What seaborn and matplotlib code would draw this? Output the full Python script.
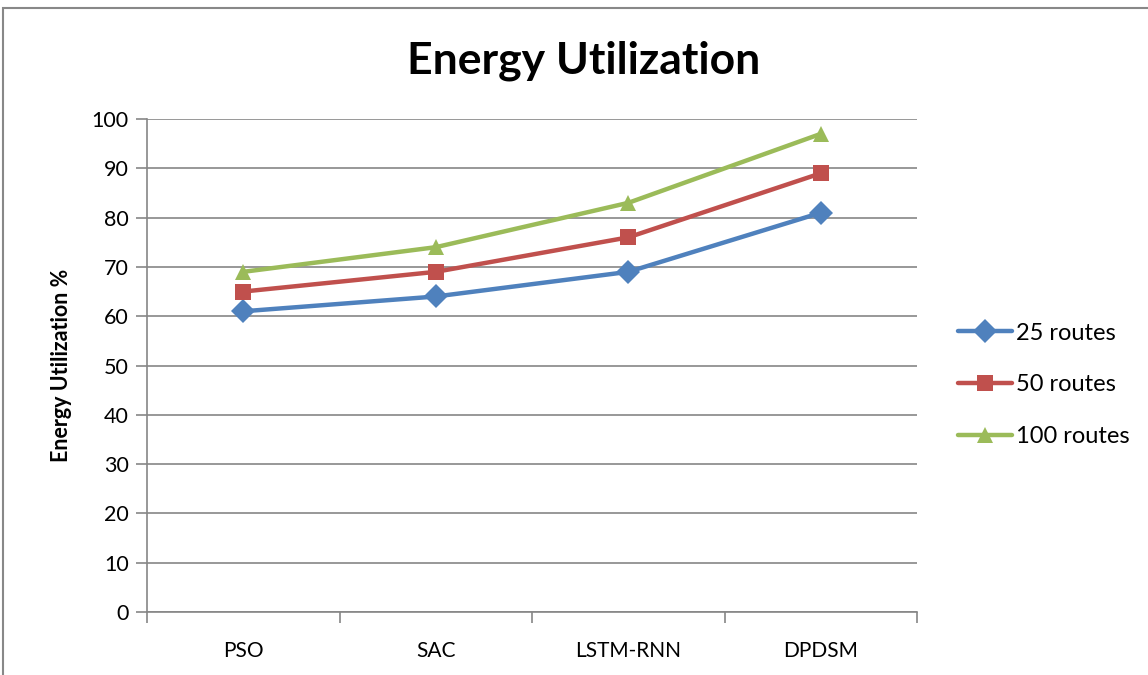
import numpy as np
import pandas as pd
import seaborn as sns
import matplotlib.pyplot as plt
from matplotlib.patches import Rectangle

# dados
metodos = ['PSO', 'SAC', 'LSTM-RNN', 'DPDSM']
rotas_25 = [61, 64, 69, 81]
rotas_50 = [65, 69, 76, 89]
rotas_100 = [69, 74, 83, 97]
series = ['25 routes', '50 routes', '100 routes']
yticks = list(range(0, 101, 10))

df = pd.DataFrame({
    'Metodo': metodos * 3,
    'Valor': rotas_25 + rotas_50 + rotas_100,
    'Serie': [s for s in series for _ in metodos],
})

sns.set_style('white')
plt.rcParams['font.family'] = ['Lato', 'DejaVu Sans']
plt.rcParams['text.color'] = 'black'
plt.rcParams['axes.labelcolor'] = 'black'

fig = plt.figure(figsize=(11.48, 6.75), dpi=100)
ax = fig.add_axes([0.128, 0.0933, 0.671, 0.7304])

cores = ['#4F81BD', '#C0504D', '#9BBB59']
sns.lineplot(data=df, x='Metodo', y='Valor', hue='Serie', style='Serie',
             palette=cores, markers=['D', 's', '^'], dashes=False,
             markersize=12, linewidth=3.2, markeredgewidth=0, sort=False,
             ax=ax, legend=True)

# linhas de grade e eixos
ax.set_ylim(0, 100)
ax.set_xlim(-0.5, 3.5)
ax.set_yticks(yticks)
ax.yaxis.grid(True, color='#868686', linewidth=1.2)
ax.set_axisbelow(True)
for lado in ['top', 'right']:
    ax.spines[lado].set_visible(False)
for lado in ['left', 'bottom']:
    ax.spines[lado].set_color('#868686')
    ax.spines[lado].set_linewidth(1.2)
ax.tick_params(axis='y', length=8, width=1.2, color='#868686', left=True,
               labelsize=15.5, labelcolor='black', pad=5)
ax.set_xticks(range(len(metodos)))
ax.set_xticklabels(metodos)
ax.tick_params(axis='x', length=0, labelsize=15, labelcolor='black', pad=21)
ax.set_xticks(np.arange(-0.5, 4, 1), minor=True)
ax.tick_params(axis='x', which='minor', length=8, width=1.2, color='#868686', bottom=True)

ax.set_xlabel('')
ax.set_ylabel('Energy Utilization %', fontsize=15.5, fontweight='bold', labelpad=14)
fig.text(0.508, 0.91, 'Energy Utilization', ha='center', va='center',
         fontsize=32, fontweight='bold')

# legenda à direita
h, l = ax.get_legend_handles_labels()
ax.get_legend().remove()
fig.legend(h, l, loc='center left', bbox_to_anchor=(0.826, 0.43), frameon=False,
           fontsize=17, handlelength=2.3, labelspacing=1.3, handletextpad=0.15,
           borderaxespad=0)

# moldura
fig.patches.append(Rectangle((0.003, -0.01), 1.1, 0.998, transform=fig.transFigure,
                             fill=False, edgecolor='#888888', linewidth=1.5))

plt.savefig('out.png', dpi=100)
plt.close()
